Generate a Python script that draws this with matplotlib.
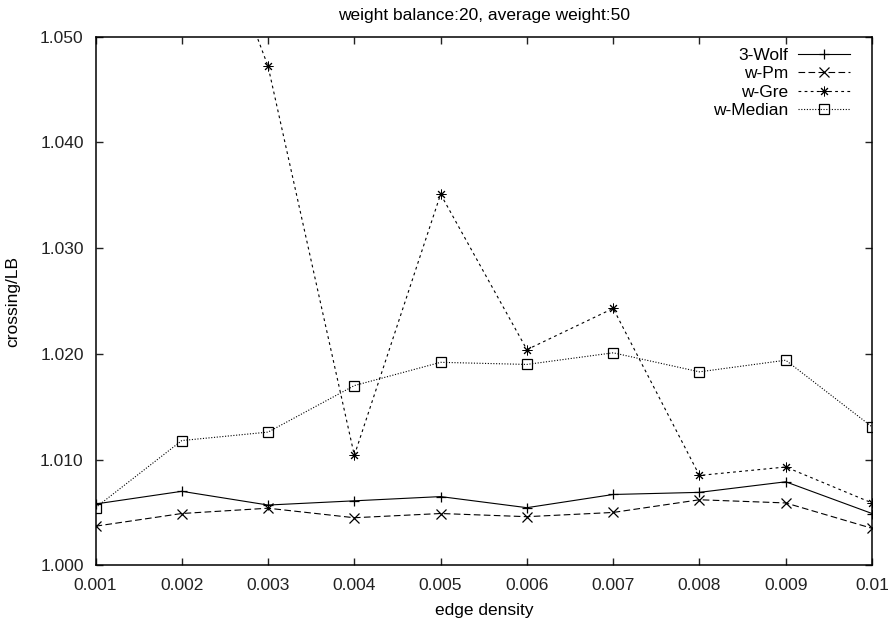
import numpy as np
import matplotlib
matplotlib.use("Agg")
import matplotlib.pyplot as plt

# values
density = [0.001, 0.002, 0.003, 0.004, 0.005, 0.006, 0.007, 0.008, 0.009, 0.01]
wolf3 = [1.0058, 1.0070, 1.0057, 1.0061, 1.0065, 1.00545, 1.0067, 1.0069, 1.0079, 1.0049]
w_pm = [1.0037, 1.0049, 1.0054, 1.0045, 1.0049, 1.0046, 1.0050, 1.0062, 1.0059, 1.0035]
w_gre = [1.085, 1.069, 1.0472, 1.0104, 1.0351, 1.0204, 1.0243, 1.0085, 1.0093, 1.0059]
w_median = [1.00545, 1.0118, 1.0126, 1.0170, 1.0192, 1.0190, 1.0201, 1.0183, 1.0194, 1.0131]

xticks = [0.001, 0.002, 0.003, 0.004, 0.005, 0.006, 0.007, 0.008, 0.009, 0.01]
xticklabels = ["0.001", "0.002", "0.003", "0.004", "0.005", "0.006", "0.007", "0.008", "0.009", "0.01"]
yticks = [1.000, 1.010, 1.020, 1.030, 1.040, 1.050]
yticklabels = ["1.000", "1.010", "1.020", "1.030", "1.040", "1.050"]

plt.rcParams['font.family'] = ['Liberation Sans', 'DejaVu Sans']
plt.rcParams['font.size'] = 12.5

fig = plt.figure(figsize=(8.96, 6.23), dpi=100)
ax = fig.add_axes([0.1066, 0.0926, 0.8666, 0.8485])

lw = 0.8
ax.plot(density, wolf3, color='black', lw=lw, ls='-', marker='+', ms=7, mew=0.9, label='3-Wolf')
ax.plot(density, w_pm, color='black', lw=lw, ls=(0, (6, 3)), marker='x', ms=6.5, mew=0.9, label='w-Pm')
ax.plot(density, w_gre, color='black', lw=lw, ls=(0, (2.5, 3)), marker=(8, 2, 0), ms=7, mew=0.7, label='w-Gre')
ax.plot(density, w_median, color='black', lw=lw, ls=(0, (1, 1.5)), marker='s', ms=7,
        mfc='none', mew=0.9, label='w-Median')

ax.set_xlim(0.001, 0.01)
ax.set_ylim(1.000, 1.050)
ax.set_xticks(xticks)
ax.set_xticklabels(xticklabels)
ax.set_yticks(yticks)
ax.set_yticklabels(yticklabels)
ax.tick_params(direction='in', length=5, width=1, top=True, right=True, colors='#222222')
ax.tick_params(axis='x', pad=9)
ax.tick_params(axis='y', pad=8.5)
for s in ax.spines.values():
    s.set_linewidth(1.1)

ax.set_xlabel('edge density', labelpad=7)
ax.set_ylabel('crossing/LB', labelpad=14)
ax.set_title('weight balance:20, average weight:50', fontsize=12.5, pad=12)

ax.legend(loc='upper right', bbox_to_anchor=(0.981, 0.992), frameon=False, markerfirst=False,
          handlelength=3.0, labelspacing=0.18, borderaxespad=0.0, handletextpad=0.6)

fig.savefig('out.png', dpi=100)
